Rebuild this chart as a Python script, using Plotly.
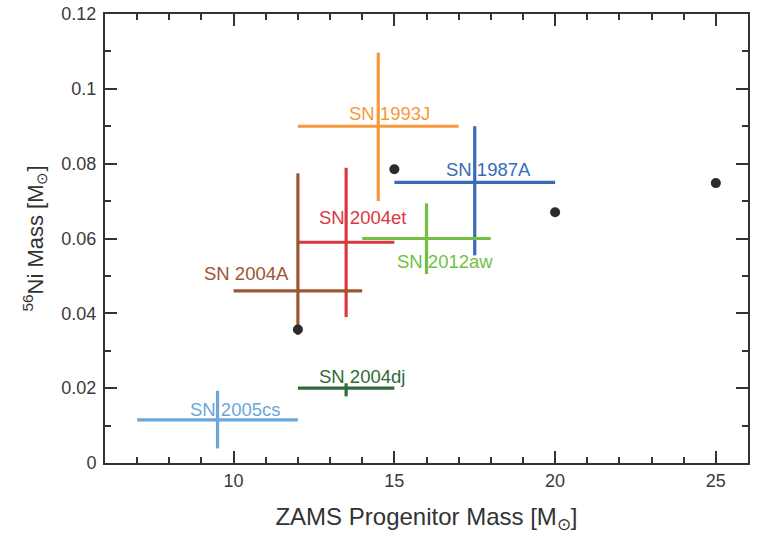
import plotly.graph_objects as go

# Supernova data: progenitor mass (x) and 56Ni mass (y) with asymmetric ranges
names = ["SN 1993J", "SN 1987A", "SN 2012aw", "SN 2004et", "SN 2004A", "SN 2004dj", "SN 2005cs"]
x_center = [14.5, 17.5, 16.0, 13.5, 12.0, 13.5, 9.5]
x_lo = [12.0, 15.0, 14.0, 12.0, 10.0, 12.0, 7.0]
x_hi = [17.0, 20.0, 18.0, 15.0, 14.0, 15.0, 12.0]
y_center = [0.090, 0.075, 0.060, 0.059, 0.046, 0.020, 0.0115]
y_lo = [0.070, 0.0555, 0.0505, 0.039, 0.0342, 0.0178, 0.0039]
y_hi = [0.1097, 0.090, 0.0694, 0.0789, 0.0774, 0.0213, 0.0193]
colors = ["#F7993A", "#3A6AB8", "#72BF44", "#D8393E", "#9E5530", "#2E6B36", "#6CA6DD"]
label_x = [14.85, 17.93, 16.59, 14.0, 10.41, 14.0, 10.05]
label_y = [0.0935, 0.0785, 0.0538, 0.0655, 0.0507, 0.0231, 0.01435]

# Model points (black dots)
model_x = [12.0, 15.0, 20.0, 25.0]
model_y = [0.0357, 0.0785, 0.067, 0.0748]

FONT = "Liberation Sans, Arial, sans-serif"

fig = go.Figure()

for i in range(len(names)):
    fig.add_trace(go.Scatter(
        x=[x_center[i]], y=[y_center[i]],
        mode="markers",
        marker=dict(size=1, color=colors[i], opacity=0),
        error_x=dict(type="data", symmetric=False,
                     array=[x_hi[i] - x_center[i]], arrayminus=[x_center[i] - x_lo[i]],
                     color=colors[i], thickness=3.2, width=0),
        error_y=dict(type="data", symmetric=False,
                     array=[y_hi[i] - y_center[i]], arrayminus=[y_center[i] - y_lo[i]],
                     color=colors[i], thickness=3.2, width=0),
        showlegend=False, hoverinfo="skip",
    ))

fig.add_trace(go.Scatter(
    x=model_x, y=model_y, mode="markers",
    marker=dict(size=10, color="#2b2b2b"),
    showlegend=False,
))

for i in range(len(names)):
    fig.add_annotation(x=label_x[i], y=label_y[i], text=names[i], showarrow=False,
                       font=dict(size=18.5, color=colors[i], family=FONT),
                       xanchor="center", yanchor="middle")

axis_common = dict(
    showline=True, linecolor="#333333", linewidth=2, mirror="allticks",
    ticks="inside", ticklen=12, tickwidth=1.5, tickcolor="#333333",
    showgrid=False, zeroline=False, automargin=False,
    tickfont=dict(size=18, color="#3a3a3a", family=FONT),
)

fig.update_xaxes(
    range=[6, 26], tick0=0, dtick=5,
    minor=dict(dtick=1, ticks="inside", ticklen=6, tickwidth=1.5, tickcolor="#333333"),
    title=dict(text="ZAMS Progenitor Mass [M<sub>⊙</sub>]", standoff=19,
               font=dict(size=24, color="#333333", family=FONT)),
    **axis_common,
)
fig.update_yaxes(
    range=[0, 0.12],
    tickvals=[0, 0.02, 0.04, 0.06, 0.08, 0.1, 0.12],
    ticktext=["0", "0.02", "0.04", "0.06", "0.08", "0.1", "0.12"],
    ticklabelstandoff=3,
    minor=dict(dtick=0.01, tick0=0, ticks="inside", ticklen=6, tickwidth=1.5, tickcolor="#333333"),
    title=dict(text="<sup>56</sup>Ni Mass [M<sub>⊙</sub>]", standoff=12,
               font=dict(size=22, color="#333333", family=FONT)),
    **axis_common,
)

fig.update_layout(
    width=759, height=542,
    margin=dict(l=105, r=11, t=14, b=79),
    plot_bgcolor="white", paper_bgcolor="white",
)

fig.write_html("out.html")
